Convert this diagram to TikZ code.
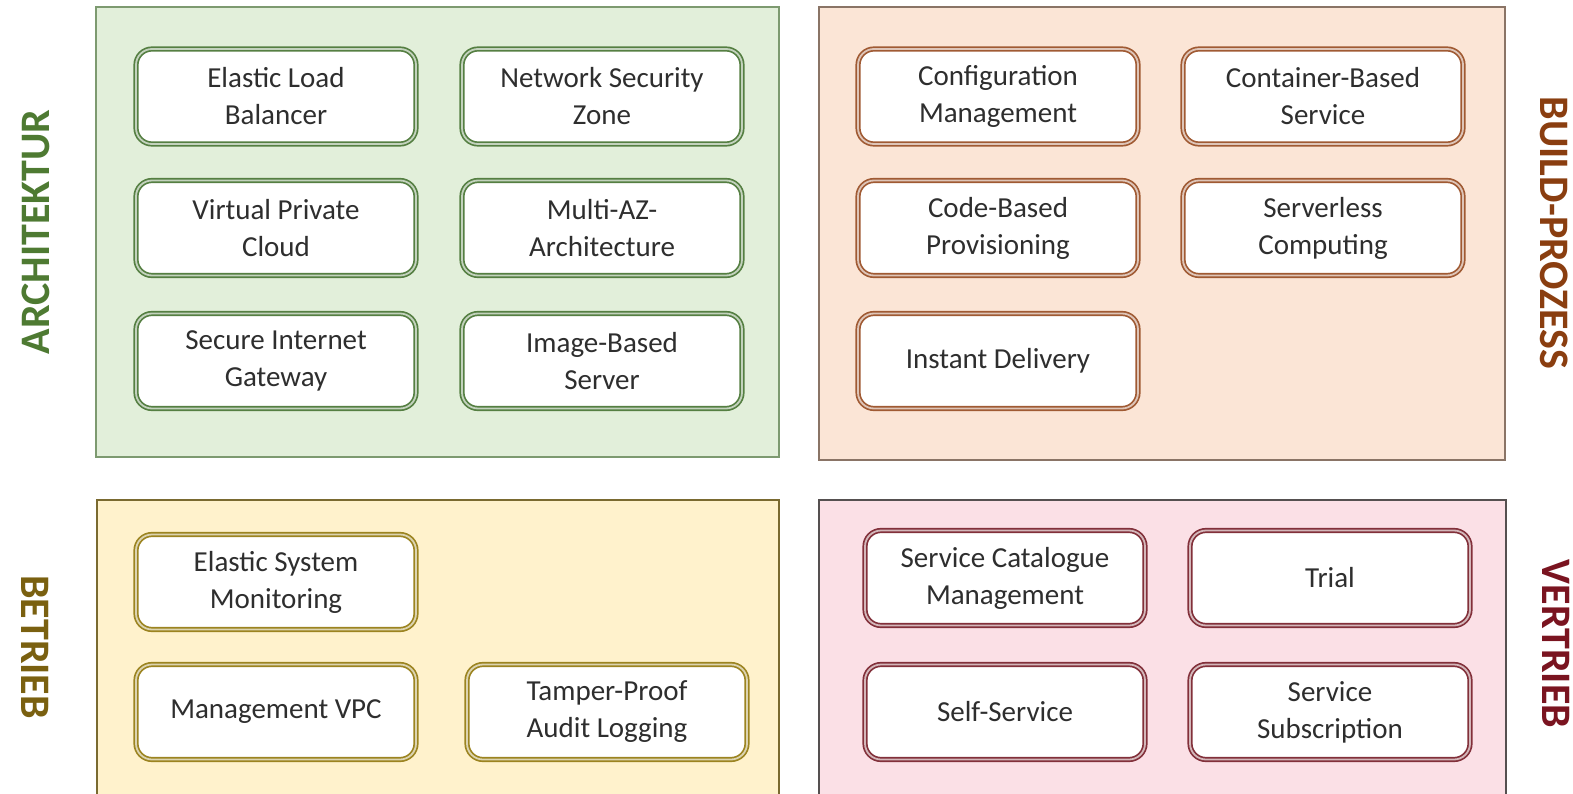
\documentclass[tikz,border=0pt]{standalone}
\usepackage{fontspec}
\setmainfont{Carlito}
\begin{document}
\begin{tikzpicture}[x=1pt,y=-1pt,
  panel/.style={line width=1.3pt},
  item/.style={rounded corners=16pt, line width=1.7pt, double distance=1.8pt,
    fill=white, minimum width=280pt, minimum height=95pt, align=center, text=black!82,
    font=\fontsize{29}{37}\selectfont, inner sep=0pt},
  gitem/.style={item, draw=grnB, double=grnB!35},
  oitem/.style={item, draw=orgB, double=orgB!35},
  yitem/.style={item, draw=yelB, double=yelB!35},
  pitem/.style={item, draw=pnkB, double=pnkB!35},
  lbl/.style={font=\fontsize{42}{42}\selectfont\bfseries}
]
\definecolor{grnF}{HTML}{E2EFDA}\definecolor{grnL}{HTML}{7D9A70}\definecolor{grnB}{HTML}{557F42}\definecolor{grnT}{HTML}{4E7A32}
\definecolor{orgF}{HTML}{FBE5D6}\definecolor{orgL}{HTML}{8A7466}\definecolor{orgB}{HTML}{A05A33}\definecolor{orgT}{HTML}{8A3E10}
\definecolor{yelF}{HTML}{FFF2CC}\definecolor{yelL}{HTML}{7A6A30}\definecolor{yelB}{HTML}{9C8420}\definecolor{yelT}{HTML}{7A6010}
\definecolor{pnkF}{HTML}{FBE0E6}\definecolor{pnkL}{HTML}{555050}\definecolor{pnkB}{HTML}{82303A}\definecolor{pnkT}{HTML}{7A1420}
\useasboundingbox (0,0) rectangle (1573,794);
\fill[white] (0,0) rectangle (1573,794);
% panels
\draw[panel, draw=grnL, fill=grnF] (96,7) rectangle (779,457);
\draw[panel, draw=orgL, fill=orgF] (819,7) rectangle (1505,460);
\draw[panel, draw=yelL, fill=yelF] (97,500) rectangle (779,810);
\draw[panel, draw=pnkL, fill=pnkF] (819,500) rectangle (1506,810);
% side labels
\node[lbl, text=grnT, rotate=90] (larch) at (36,232) {ARCHITEKTUR};
\node[lbl, text=orgT, rotate=-90] (lbuild) at (1554,233) {BUILD-PROZESS};
\node[lbl, text=yelT, rotate=-90] (lbetr) at (35,647) {BETRIEB};
\node[lbl, text=pnkT, rotate=-90] (lvert) at (1556,644) {VERTRIEB};
% Architektur
\node[gitem] (elb) at (276,96.5) {Elastic Load\\Balancer};
\node[gitem] (nsz) at (602,96.5) {Network Security\\Zone};
\node[gitem] (vpc) at (276,228) {Virtual Private\\Cloud};
\node[gitem] (maz) at (602,228) {Multi-AZ-\\Architecture};
\node[gitem] (sig) at (276,361) {Secure Internet\\Gateway};
\node[gitem] (ibs) at (602,361) {Image-Based\\Server};
% Build-Prozess
\node[oitem] (cfg) at (998,96.5) {Configuration\\Management};
\node[oitem] (cbs) at (1323,96.5) {Container-Based\\Service};
\node[oitem] (cbp) at (998,228) {Code-Based\\Provisioning};
\node[oitem] (slc) at (1323,228) {Serverless\\Computing};
\node[oitem] (ind) at (998,361) {Instant Delivery};
% Betrieb
\node[yitem] (esm) at (276,582) {Elastic System\\Monitoring};
\node[yitem] (mvpc) at (276,712) {Management VPC};
\node[yitem] (tpal) at (607,712) {Tamper-Proof\\Audit Logging};
% Vertrieb
\node[pitem] (scm) at (1005,578) {Service Catalogue\\Management};
\node[pitem] (trial) at (1330,578) {Trial};
\node[pitem] (ss) at (1005,712) {Self-Service};
\node[pitem] (ssub) at (1330,712) {Service\\Subscription};
\end{tikzpicture}
\end{document}
